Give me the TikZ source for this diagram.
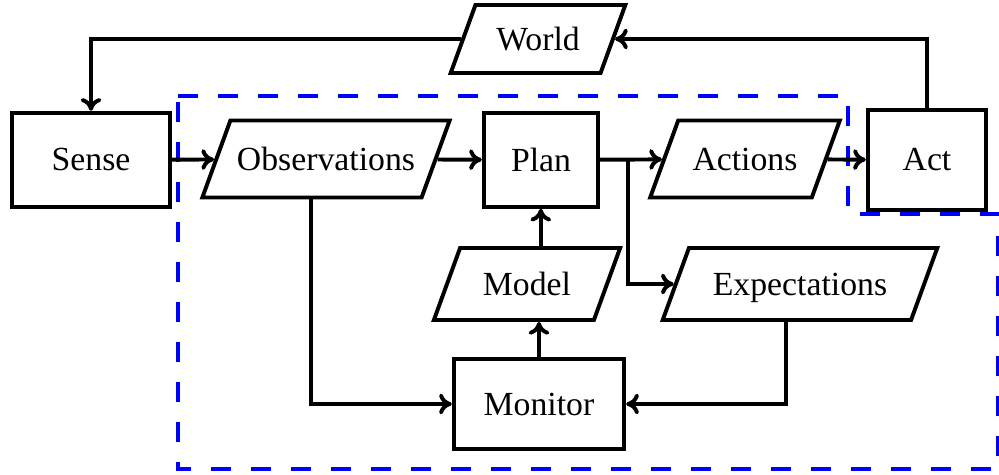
\documentclass[tikz,border=0pt]{standalone}
\usepackage{fontspec}
\setmainfont{Liberation Serif}
\usepackage{tikz}
\usetikzlibrary{shapes.geometric, arrows.meta, positioning, calc}
\tikzset{
  box/.style   = {rectangle, draw, line width=1.4pt, inner sep=2pt},
  data/.style  = {trapezium, draw, line width=1.4pt, inner xsep=0pt,
                  text height=9.5pt, text depth=1.5pt, align=center,
                  trapezium left angle=70, trapezium right angle=110},
  arrow/.style = {line width=1.4pt, -{To[length=1.6mm, width=2.6mm]}},
  region/.style = {draw=blue, line width=1.5pt, dash pattern=on 2.5mm off 2.5mm},
}
\begin{document}
\begin{tikzpicture}[x=0.125mm, y=-0.125mm, every node/.style={font=\fontsize{12}{14}\selectfont}]
    \useasboundingbox (0,0) rectangle (999,475);

    %% dashed planning region
    \draw[region] (178,96) -- (848,96) -- (848,214) -- (998,214)
                  -- (998,469) -- (178,469) -- cycle;

    %% top row
    \node[data, text width=44.5pt, inner ysep=6.6pt] (world) at (538,39) {World};
    \node[box, minimum width=1.98cm, minimum height=1.18cm] (sense) at (91,160) {Sense};
    \node[data, text width=68pt, inner ysep=8.2pt] (obs) at (326,159) {Observations};
    \node[box, minimum width=1.43cm, minimum height=1.17cm] (plan) at (541,160) {Plan};
    \node[data, text width=47.5pt, inner ysep=8.2pt] (actions) at (745,159) {Actions};
    \node[box, minimum width=1.48cm, minimum height=1.26cm] (act) at (927,160) {Act};

    %% lower rows
    \node[data, text width=47.6pt, inner ysep=7.3pt] (model) at (527,284) {Model};
    \node[data, text width=79pt, inner ysep=7.3pt] (expect) at (800,284) {Expectations};
    \node[box, minimum width=2.13cm, minimum height=1.13cm] (monitor) at (539,404) {Monitor};

    %% mid points of the slanted boxes' edges
    \coordinate (split) at (628,160);
    \coordinate (obsS) at ($(obs.bottom left corner)!0.5!(obs.bottom right corner)$);
    \coordinate (expS) at ($(expect.bottom left corner)!0.5!(expect.bottom right corner)$);
    \coordinate (modN) at ($(model.top left corner)!0.5!(model.top right corner)$);

    %% connectors
    \draw[arrow] (sense) -- (obs);
    \draw[arrow] (obs) -- (plan);
    \draw[arrow] (plan) -- (actions);
    \draw[arrow] (actions) -- (act);
    \draw[arrow] (act.north) |- (world.east);
    \draw[arrow] (world.west) -| (sense.north);
    \draw[arrow] (split) |- (expect.west);
    \draw[arrow] (obsS) |- (monitor.west);
    \draw[arrow] (expS) |- (monitor.east);
    \draw[arrow] (monitor.north) -- (monitor.north |- model.south);
    \draw[arrow] (modN) -- (modN |- plan.south);

  \end{tikzpicture}
\end{document}
